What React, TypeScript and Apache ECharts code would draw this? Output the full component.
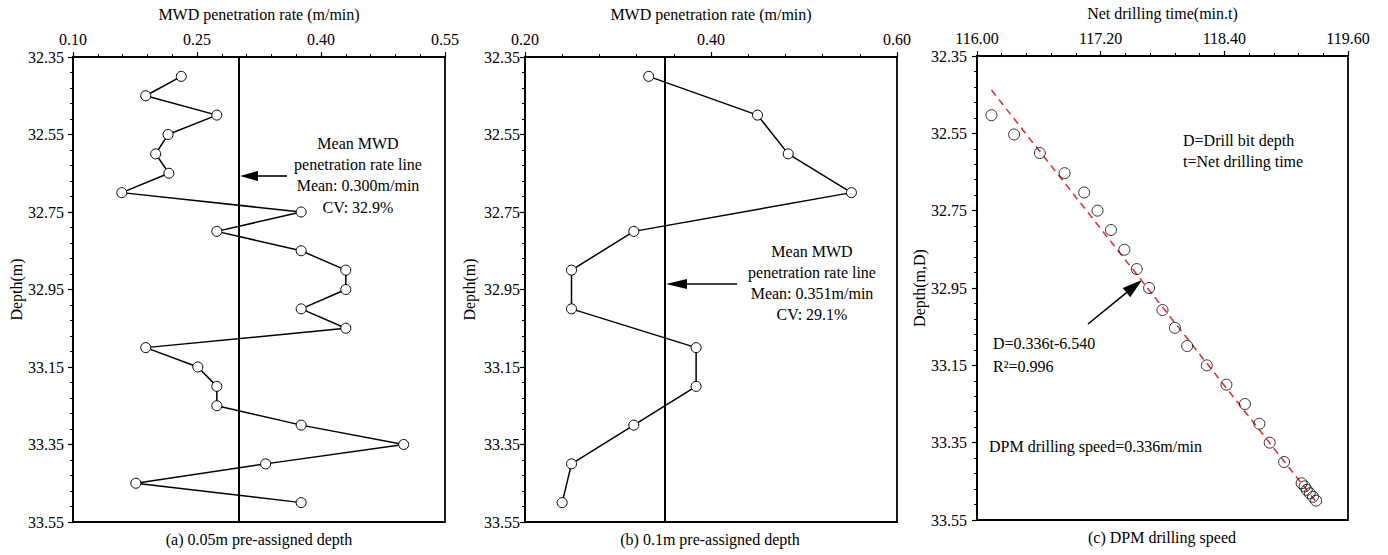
import React, { useEffect, useRef } from "react";
import * as echarts from "echarts";

// ---------- data ----------
// (a) 0.05 m pre-assigned depth
const depthA = [32.40, 32.45, 32.50, 32.55, 32.60, 32.65, 32.70, 32.75, 32.80, 32.85, 32.90, 32.95, 33.00, 33.05, 33.10, 33.15, 33.20, 33.25, 33.30, 33.35, 33.40, 33.45, 33.50];
const rateA = [0.231, 0.188, 0.274, 0.215, 0.200, 0.216, 0.159, 0.376, 0.274, 0.376, 0.430, 0.430, 0.376, 0.430, 0.188, 0.251, 0.274, 0.274, 0.376, 0.500, 0.333, 0.176, 0.376];
const meanA = 0.300;

// (b) 0.1 m pre-assigned depth
const depthB = [32.40, 32.50, 32.60, 32.70, 32.80, 32.90, 33.00, 33.10, 33.20, 33.30, 33.40, 33.50];
const rateB = [0.333, 0.450, 0.483, 0.551, 0.317, 0.250, 0.250, 0.384, 0.384, 0.317, 0.250, 0.240];
const meanB = 0.351;

// (c) DPM drilling speed
const timeC = [116.14, 116.36, 116.61, 116.85, 117.04, 117.17, 117.30, 117.43, 117.55, 117.67, 117.80, 117.92, 118.04, 118.23, 118.42, 118.60, 118.74, 118.84, 118.98, 119.15, 119.18, 119.20, 119.23, 119.26, 119.29];
const depthC = [32.503, 32.553, 32.601, 32.653, 32.703, 32.750, 32.800, 32.851, 32.901, 32.950, 33.007, 33.053, 33.100, 33.150, 33.200, 33.250, 33.301, 33.350, 33.400, 33.455, 33.463, 33.472, 33.481, 33.490, 33.500];
const fitTimeC = [116.14, 119.29];
const fitDepthC = [32.438, 33.503];

// axis ranges
const depthRange = { min: 32.35, max: 33.55, interval: 0.2 };
const rateRangeA = { min: 0.10, max: 0.55, interval: 0.15 };
const rateRangeB = { min: 0.20, max: 0.60, interval: 0.2 };
const timeRangeC = { min: 116.0, max: 119.6, interval: 1.2 };

const FONT = "'Liberation Serif', 'Times New Roman', serif";
const FS = 16;

function xAxisCfg(gridIndex: number, name: string, r: any, nameGap: number) {
  return {
    type: "value",
    gridIndex,
    position: "top",
    min: r.min,
    max: r.max,
    interval: r.interval,
    name,
    nameLocation: "middle",
    nameGap,
    nameTextStyle: { fontFamily: FONT, fontSize: FS, color: "#000" },
    axisLine: { show: true, lineStyle: { color: "#000", width: 1.8 } },
    axisTick: { show: true, inside: false, length: 5, lineStyle: { color: "#000", width: 1.2 } },
    minorTick: { show: true, splitNumber: 5, length: 3, lineStyle: { color: "#000", width: 1 } },
    axisLabel: { fontFamily: FONT, fontSize: FS, color: "#000", margin: 10, formatter: (v: number) => v.toFixed(2) },
    splitLine: { show: false },
    minorSplitLine: { show: false },
  };
}

function yAxisCfg(gridIndex: number, name: string, nameGap: number, margin: number) {
  return {
    type: "value",
    gridIndex,
    inverse: true,
    min: depthRange.min,
    max: depthRange.max,
    interval: depthRange.interval,
    name,
    nameLocation: "middle",
    nameGap,
    nameRotate: 90,
    nameTextStyle: { fontFamily: FONT, fontSize: FS, color: "#000" },
    axisLine: { show: true, lineStyle: { color: "#000", width: 1.8 } },
    axisTick: { show: true, inside: false, length: 5, lineStyle: { color: "#000", width: 1.2 } },
    minorTick: { show: true, splitNumber: 5, length: 3, lineStyle: { color: "#000", width: 1 } },
    axisLabel: { fontFamily: FONT, fontSize: FS, color: "#000", margin, formatter: (v: number) => v.toFixed(2) },
    splitLine: { show: false },
    minorSplitLine: { show: false },
  };
}

function text(x: number, y: number, s: string, align = "center") {
  return {
    type: "text",
    x,
    y,
    silent: true,
    style: { text: s, fontFamily: FONT, fontSize: FS, fill: "#000", align, verticalAlign: "middle" },
  };
}

function arrow(tx: number, ty: number, hx: number, hy: number, headLen: number, headHalf: number) {
  const dx = hx - tx;
  const dy = hy - ty;
  const L = Math.sqrt(dx * dx + dy * dy);
  const ux = dx / L;
  const uy = dy / L;
  const bx = hx - ux * headLen;
  const by = hy - uy * headLen;
  const nx = -uy;
  const ny = ux;
  return [
    { type: "line", silent: true, shape: { x1: tx, y1: ty, x2: bx, y2: by }, style: { stroke: "#000", lineWidth: 1.6 } },
    {
      type: "polygon",
      silent: true,
      shape: { points: [[hx, hy], [bx + nx * headHalf, by + ny * headHalf], [bx - nx * headHalf, by - ny * headHalf]] },
      style: { fill: "#000" },
    },
  ];
}

export default function App() {
  const ref = useRef<HTMLDivElement>(null);

  useEffect(() => {
    document.body.style.margin = "0";
    if (!ref.current) return;
    const chart = echarts.init(ref.current, undefined, { renderer: "svg" });

    const circleStyle = { color: "#fff", borderColor: "#000", borderWidth: 1 };

    const option: any = {
      animation: false,
      backgroundColor: "#fff",
      textStyle: { fontFamily: FONT },
      grid: [
        { left: 73, top: 57, width: 372, height: 465, show: true, borderColor: "#000", borderWidth: 1.8, backgroundColor: "transparent" },
        { left: 525, top: 57, width: 372, height: 465, show: true, borderColor: "#000", borderWidth: 1.8, backgroundColor: "transparent" },
        { left: 977, top: 54, width: 371, height: 466, show: true, borderColor: "#000", borderWidth: 1.8, backgroundColor: "transparent" },
      ],
      xAxis: [
        xAxisCfg(0, "MWD penetration rate (m/min)", rateRangeA, 35),
        xAxisCfg(1, "MWD penetration rate (m/min)", rateRangeB, 35),
        xAxisCfg(2, "Net drilling time(min.t)", timeRangeC, 35),
      ],
      yAxis: [
        yAxisCfg(0, "Depth(m)", 48, 9),
        yAxisCfg(1, "Depth(m)", 48, 5),
        yAxisCfg(2, "Depth(m,D)", 50, 10),
      ],
      series: [
        {
          type: "line",
          xAxisIndex: 0,
          yAxisIndex: 0,
          data: depthA.map((d, i) => [rateA[i], d]),
          symbol: "circle",
          symbolSize: 10,
          itemStyle: circleStyle,
          lineStyle: { color: "#000", width: 1.5 },
          z: 3,
          markLine: {
            silent: true,
            symbol: ["none", "none"],
            label: { show: false },
            lineStyle: { color: "#000", width: 2, type: "solid" },
            data: [{ xAxis: meanA }],
          },
        },
        {
          type: "line",
          xAxisIndex: 1,
          yAxisIndex: 1,
          data: depthB.map((d, i) => [rateB[i], d]),
          symbol: "circle",
          symbolSize: 10,
          itemStyle: circleStyle,
          lineStyle: { color: "#000", width: 1.5 },
          z: 3,
          markLine: {
            silent: true,
            symbol: ["none", "none"],
            label: { show: false },
            lineStyle: { color: "#000", width: 2, type: "solid" },
            data: [{ xAxis: meanB }],
          },
        },
        {
          type: "line",
          xAxisIndex: 2,
          yAxisIndex: 2,
          data: fitTimeC.map((t, i) => [t, fitDepthC[i]]),
          symbol: "none",
          lineStyle: { color: "#e8302f", width: 1.6, type: [7, 5] },
          z: 2,
        },
        {
          type: "scatter",
          xAxisIndex: 2,
          yAxisIndex: 2,
          data: timeC.map((t, i) => [t, depthC[i]]),
          symbol: "circle",
          symbolSize: 11,
          itemStyle: { color: "rgba(255,255,255,0)", borderColor: "#000", borderWidth: 1 },
          z: 3,
        },
      ],
      graphic: [
        // panel (a) annotation
        text(358, 143, "Mean MWD"),
        text(358, 164, "penetration rate line"),
        text(358, 185, "Mean: 0.300m/min"),
        text(358, 207, "CV: 32.9%"),
        ...arrow(287, 176, 240, 176, 18, 5),
        // panel (b) annotation
        text(812, 251, "Mean MWD"),
        text(812, 272, "penetration rate line"),
        text(812, 293, "Mean: 0.351m/min"),
        text(812, 314, "CV: 29.1%"),
        ...arrow(737, 284, 666, 284, 21, 5),
        // panel (c) annotation
        text(1183, 140, "D=Drill bit depth", "left"),
        text(1183, 161, "t=Net drilling time", "left"),
        text(993, 343, "D=0.336t-6.540", "left"),
        text(993, 366, "R²=0.996", "left"),
        text(989, 446, "DPM drilling speed=0.336m/min", "left"),
        ...arrow(1088, 324, 1142, 280, 20, 6),
        // captions
        text(259, 539, "(a) 0.05m pre-assigned depth"),
        text(710, 539, "(b) 0.1m pre-assigned depth"),
        text(1162, 537, "(c) DPM drilling speed"),
      ],
    };

    chart.setOption(option);
    return () => chart.dispose();
  }, []);

  return <div ref={ref} style={{ width: 1388, height: 555 }} />;
}
